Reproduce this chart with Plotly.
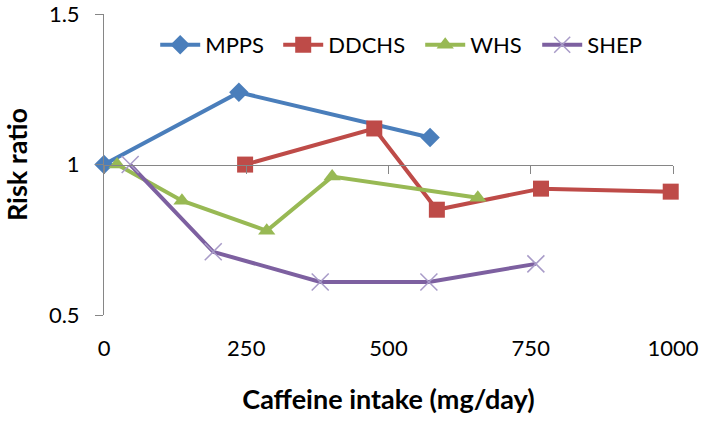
import plotly.graph_objects as go

# Data (caffeine intake mg/day, risk ratio)
mpps_x = [0, 237, 573]
mpps_y = [1.00, 1.24, 1.09]
ddchs_x = [248, 475, 585, 768, 996]
ddchs_y = [1.00, 1.12, 0.85, 0.92, 0.91]
whs_x = [23, 137, 286, 401, 657]
whs_y = [1.00, 0.88, 0.78, 0.96, 0.89]
shep_x = [46, 192, 380, 571, 759]
shep_y = [1.00, 0.71, 0.61, 0.61, 0.67]

x_ticks = [0, 250, 500, 750, 1000]
y_ticks = [0.5, 1, 1.5]
y_tick_labels = ["0.5", "1", "1.5"]
grid_vals = [0.5, 1.5]

FONT = "Lato"
AXIS_GRAY = "#868686"
Y_RANGE = [0.5, 1.5005]

fig = go.Figure()

series = [
    ("MPPS", mpps_x, mpps_y, "#4A7EBB", dict(symbol="diamond", size=15, color="#4A7EBB"), 68),
    ("DDCHS", ddchs_x, ddchs_y, "#BE4B48", dict(symbol="square", size=16, color="#BE4B48"), 87),
    ("WHS", whs_x, whs_y, "#98B954", dict(symbol="triangle-up", size=15, color="#98B954"), 62),
    ("SHEP", shep_x, shep_y, "#7D60A0",
     dict(symbol="x-thin-open", size=17, color="#A89BC8", line=dict(width=1.5, color="#A89BC8")), 60),
]
for name, xs, ys, col, mk, lw in series:
    fig.add_trace(go.Scatter(
        x=xs, y=ys, name=name, mode="lines+markers",
        line=dict(color=col, width=4), marker=mk, cliponaxis=False,
        legendwidth=lw,
    ))

# empty helper traces so the auxiliary axes get drawn
fig.add_trace(go.Scatter(x=[], y=[], xaxis="x2", yaxis="y", showlegend=False, hoverinfo="skip"))
fig.add_trace(go.Scatter(x=[], y=[], xaxis="x", yaxis="y2", showlegend=False, hoverinfo="skip"))

fig.update_layout(
    width=705, height=423,
    margin=dict(l=104, r=32, t=14, b=108, autoexpand=False),
    paper_bgcolor="white", plot_bgcolor="white",
    font=dict(family=FONT, color="#000000"),
    showlegend=True,
    legend=dict(
        orientation="h", x=0.09, y=0.897, xanchor="left", yanchor="middle",
        font=dict(family=FONT, size=22, color="#000000"),
        bgcolor="rgba(0,0,0,0)", itemwidth=40, tracegroupgap=0,
    ),
    xaxis=dict(
        range=[0, 1000], tickvals=x_ticks, ticktext=[str(v) for v in x_ticks],
        showgrid=False, zeroline=False, showline=False, ticks="",
        ticklabelstandoff=18, automargin=False, ticklabeloverflow="allow",
        tickfont=dict(family=FONT, size=22, color="#000000"),
        title=dict(text="<b>Caffeine intake (mg/day)</b>", standoff=30,
                   font=dict(family=FONT, size=27, color="#000000")),
    ),
    xaxis2=dict(
        range=[0, 1000], overlaying="x", anchor="free", position=0.5, side="bottom",
        tickvals=x_ticks, showticklabels=False, showgrid=False, zeroline=False,
        showline=True, linecolor=AXIS_GRAY, linewidth=1, automargin=False,
        ticks="outside", ticklen=8, tickcolor=AXIS_GRAY, tickwidth=1,
    ),
    yaxis=dict(
        range=Y_RANGE, tickvals=y_ticks, ticktext=y_tick_labels,
        showgrid=False, zeroline=False, showline=True, linecolor=AXIS_GRAY, linewidth=1,
        ticks="outside", ticklen=8, tickcolor=AXIS_GRAY, tickwidth=1,
        ticklabelstandoff=11, automargin=False, ticklabeloverflow="allow",
        tickfont=dict(family=FONT, size=22, color="#000000"),
        title=dict(text="<b>Risk ratio</b>", standoff=18,
                   font=dict(family=FONT, size=27, color="#000000")),
    ),
    yaxis2=dict(
        range=Y_RANGE, overlaying="y", side="left", tickvals=grid_vals,
        showticklabels=False, ticks="", showline=False, zeroline=False,
        showgrid=True, gridcolor="#9a9a9a", griddash="dot", gridwidth=1,
        automargin=False,
    ),
)

fig.write_html(
    "out.html",
    config={"displayModeBar": False},
    post_script="document.body.style.margin='0';document.body.style.overflow='hidden';",
)
